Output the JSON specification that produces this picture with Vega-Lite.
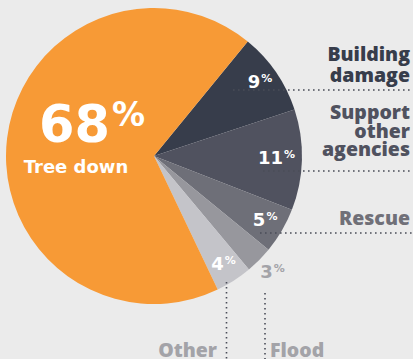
{
  "$schema": "https://vega.github.io/schema/vega-lite/v6.json",
  "width": 308,
  "height": 312,
  "autosize": "none",
  "padding": {"left": 0, "top": 0, "right": 105, "bottom": 47},
  "background": "#ebebeb",
  "config": {"view": {"stroke": null}},
  "data": {"values": [
    {"category": "Building damage", "value": 9, "ord": 1, "num": "9", "label": "Building\ndamage"},
    {"category": "Support other agencies", "value": 11, "ord": 2, "num": "11", "label": "Support\nother\nagencies"},
    {"category": "Rescue", "value": 5, "ord": 3, "num": "5", "label": "Rescue"},
    {"category": "Flood", "value": 3, "ord": 4, "num": "3", "label": "Flood"},
    {"category": "Other", "value": 4, "ord": 5, "num": "4", "label": "Other"},
    {"category": "Tree down", "value": 68, "ord": 6, "num": "68", "label": "Tree down"}
  ]},
  "layer": [
    {
      "mark": {"type": "arc", "outerRadius": 148},
      "encoding": {
        "theta": {"field": "value", "type": "quantitative", "stack": true, "scale": {"domain": [0, 100], "range": [0.686, 6.969]}},
        "order": {"field": "ord", "type": "quantitative"},
        "color": {"field": "category", "type": "nominal", "legend": null,
          "scale": {"domain": ["Building damage", "Support other agencies", "Rescue", "Flood", "Other", "Tree down"],
                    "range": ["#373d4b", "#50525f", "#6e6f78", "#97979d", "#c4c4c9", "#f79a36"]}}
      }
    },
    {
      "mark": {"type": "text", "radius": 129, "align": "right", "baseline": "middle", "font": "DejaVu Sans", "fontWeight": "bold", "fontSize": 18, "color": "#ffffff"},
      "encoding": {
        "theta": {"field": "value", "type": "quantitative", "stack": true, "scale": {"domain": [0, 100], "range": [0.686, 6.969]}},
        "order": {"field": "ord", "type": "quantitative"},
        "detail": {"field": "category", "type": "nominal"},
        "text": {"condition": {"test": "datum.category !== 'Tree down' && datum.category !== 'Flood'", "field": "num", "type": "nominal"}, "value": ""}
      }
    },
    {
      "mark": {"type": "text", "radius": 129, "align": "left", "baseline": "middle", "dx": 1, "dy": -4, "font": "DejaVu Sans", "fontWeight": "bold", "fontSize": 11, "color": "#ffffff"},
      "encoding": {
        "theta": {"field": "value", "type": "quantitative", "stack": true, "scale": {"domain": [0, 100], "range": [0.686, 6.969]}},
        "order": {"field": "ord", "type": "quantitative"},
        "detail": {"field": "category", "type": "nominal"},
        "text": {"condition": {"test": "datum.category !== 'Tree down' && datum.category !== 'Flood'", "value": "%"}, "value": ""}
      }
    },
    {
      "mark": {"type": "text", "radius": 167, "align": "right", "baseline": "middle", "font": "DejaVu Sans", "fontWeight": "bold", "fontSize": 18, "color": "#a3a3a8"},
      "encoding": {
        "theta": {"field": "value", "type": "quantitative", "stack": true, "scale": {"domain": [0, 100], "range": [0.686, 6.969]}},
        "order": {"field": "ord", "type": "quantitative"},
        "detail": {"field": "category", "type": "nominal"},
        "text": {"condition": {"test": "datum.category === 'Flood'", "field": "num", "type": "nominal"}, "value": ""}
      }
    },
    {
      "mark": {"type": "text", "radius": 167, "align": "left", "baseline": "middle", "dx": 1, "dy": -4, "font": "DejaVu Sans", "fontWeight": "bold", "fontSize": 11, "color": "#a3a3a8"},
      "encoding": {
        "theta": {"field": "value", "type": "quantitative", "stack": true, "scale": {"domain": [0, 100], "range": [0.686, 6.969]}},
        "order": {"field": "ord", "type": "quantitative"},
        "detail": {"field": "category", "type": "nominal"},
        "text": {"condition": {"test": "datum.category === 'Flood'", "value": "%"}, "value": ""}
      }
    },
    {
      "transform": [{"filter": "datum.category === 'Tree down'"}],
      "mark": {"type": "text", "align": "right", "baseline": "alphabetic", "font": "DejaVu Sans", "fontWeight": "bold", "fontSize": 51, "color": "#ffffff"},
      "encoding": {
        "x": {"datum": 110, "type": "quantitative", "scale": {"domain": [0, 308], "nice": false, "zero": false}, "axis": null},
        "y": {"datum": 142, "type": "quantitative", "scale": {"domain": [0, 312], "nice": false, "zero": false, "reverse": true}, "axis": null},
        "text": {"field": "num", "type": "nominal"}
      }
    },
    {
      "transform": [{"filter": "datum.category === 'Tree down'"}],
      "mark": {"type": "text", "align": "left", "baseline": "alphabetic", "font": "DejaVu Sans", "fontWeight": "bold", "fontSize": 33, "color": "#ffffff", "text": "%"},
      "encoding": {
        "x": {"datum": 112, "type": "quantitative", "scale": {"domain": [0, 308], "nice": false, "zero": false}, "axis": null},
        "y": {"datum": 126, "type": "quantitative", "scale": {"domain": [0, 312], "nice": false, "zero": false, "reverse": true}, "axis": null}
      }
    },
    {
      "transform": [{"filter": "datum.category === 'Tree down'"}],
      "mark": {"type": "text", "align": "center", "baseline": "alphabetic", "font": "DejaVu Sans", "fontWeight": "bold", "fontSize": 18, "color": "#ffffff"},
      "encoding": {
        "x": {"datum": 76, "type": "quantitative", "scale": {"domain": [0, 308], "nice": false, "zero": false}, "axis": null},
        "y": {"datum": 173, "type": "quantitative", "scale": {"domain": [0, 312], "nice": false, "zero": false, "reverse": true}, "axis": null},
        "text": {"field": "label", "type": "nominal"}
      }
    },
    {
      "transform": [{"filter": "datum.category === 'Building damage'"}],
      "mark": {"type": "text", "align": "right", "baseline": "alphabetic", "font": "Open Sans", "fontWeight": 800, "fontSize": 19.5, "lineHeight": 21, "lineBreak": "\n", "color": "#373d4b"},
      "encoding": {
        "x": {"datum": 410, "type": "quantitative", "scale": {"domain": [0, 308], "nice": false, "zero": false}, "axis": null},
        "y": {"datum": 61, "type": "quantitative", "scale": {"domain": [0, 312], "nice": false, "zero": false, "reverse": true}, "axis": null},
        "text": {"field": "label", "type": "nominal"}
      }
    },
    {
      "transform": [{"filter": "datum.category === 'Support other agencies'"}],
      "mark": {"type": "text", "align": "right", "baseline": "alphabetic", "font": "Open Sans", "fontWeight": 800, "fontSize": 19.5, "lineHeight": 18.5, "lineBreak": "\n", "color": "#50525f"},
      "encoding": {
        "x": {"datum": 410, "type": "quantitative", "scale": {"domain": [0, 308], "nice": false, "zero": false}, "axis": null},
        "y": {"datum": 119, "type": "quantitative", "scale": {"domain": [0, 312], "nice": false, "zero": false, "reverse": true}, "axis": null},
        "text": {"field": "label", "type": "nominal"}
      }
    },
    {
      "transform": [{"filter": "datum.category === 'Rescue'"}],
      "mark": {"type": "text", "align": "right", "baseline": "alphabetic", "font": "Open Sans", "fontWeight": 800, "fontSize": 19.5, "color": "#707078"},
      "encoding": {
        "x": {"datum": 410, "type": "quantitative", "scale": {"domain": [0, 308], "nice": false, "zero": false}, "axis": null},
        "y": {"datum": 225, "type": "quantitative", "scale": {"domain": [0, 312], "nice": false, "zero": false, "reverse": true}, "axis": null},
        "text": {"field": "label", "type": "nominal"}
      }
    },
    {
      "transform": [{"filter": "datum.category === 'Other'"}],
      "mark": {"type": "text", "align": "right", "baseline": "alphabetic", "font": "Open Sans", "fontWeight": 800, "fontSize": 19.5, "color": "#a3a3a8"},
      "encoding": {
        "x": {"datum": 217, "type": "quantitative", "scale": {"domain": [0, 308], "nice": false, "zero": false}, "axis": null},
        "y": {"datum": 356.5, "type": "quantitative", "scale": {"domain": [0, 312], "nice": false, "zero": false, "reverse": true}, "axis": null},
        "text": {"field": "label", "type": "nominal"}
      }
    },
    {
      "transform": [{"filter": "datum.category === 'Flood'"}],
      "mark": {"type": "text", "align": "left", "baseline": "alphabetic", "font": "Open Sans", "fontWeight": 800, "fontSize": 19.5, "color": "#a3a3a8"},
      "encoding": {
        "x": {"datum": 270, "type": "quantitative", "scale": {"domain": [0, 308], "nice": false, "zero": false}, "axis": null},
        "y": {"datum": 356.5, "type": "quantitative", "scale": {"domain": [0, 312], "nice": false, "zero": false, "reverse": true}, "axis": null},
        "text": {"field": "label", "type": "nominal"}
      }
    },
    {
      "transform": [{"filter": "datum.category === 'Building damage'"}],
      "mark": {"type": "rule", "color": "#4a4d58", "strokeWidth": 1.6, "strokeDash": [1.6, 3.4]},
      "encoding": {
        "x": {"datum": 233, "type": "quantitative", "scale": {"domain": [0, 308], "nice": false, "zero": false}, "axis": null},
        "x2": {"datum": 413},
        "y": {"datum": 90, "type": "quantitative", "scale": {"domain": [0, 312], "nice": false, "zero": false, "reverse": true}, "axis": null}
      }
    },
    {
      "transform": [{"filter": "datum.category === 'Support other agencies'"}],
      "mark": {"type": "rule", "color": "#4a4d58", "strokeWidth": 1.6, "strokeDash": [1.6, 3.4]},
      "encoding": {
        "x": {"datum": 263, "type": "quantitative", "scale": {"domain": [0, 308], "nice": false, "zero": false}, "axis": null},
        "x2": {"datum": 413},
        "y": {"datum": 171, "type": "quantitative", "scale": {"domain": [0, 312], "nice": false, "zero": false, "reverse": true}, "axis": null}
      }
    },
    {
      "transform": [{"filter": "datum.category === 'Rescue'"}],
      "mark": {"type": "rule", "color": "#4a4d58", "strokeWidth": 1.6, "strokeDash": [1.6, 3.4]},
      "encoding": {
        "x": {"datum": 260, "type": "quantitative", "scale": {"domain": [0, 308], "nice": false, "zero": false}, "axis": null},
        "x2": {"datum": 413},
        "y": {"datum": 233, "type": "quantitative", "scale": {"domain": [0, 312], "nice": false, "zero": false, "reverse": true}, "axis": null}
      }
    },
    {
      "transform": [{"filter": "datum.category === 'Other'"}],
      "mark": {"type": "rule", "color": "#4a4d58", "strokeWidth": 1.6, "strokeDash": [1.6, 3.4]},
      "encoding": {
        "x": {"datum": 226.5, "type": "quantitative", "scale": {"domain": [0, 308], "nice": false, "zero": false}, "axis": null},
        "y": {"datum": 282, "type": "quantitative", "scale": {"domain": [0, 312], "nice": false, "zero": false, "reverse": true}, "axis": null},
        "y2": {"datum": 359}
      }
    },
    {
      "transform": [{"filter": "datum.category === 'Flood'"}],
      "mark": {"type": "rule", "color": "#4a4d58", "strokeWidth": 1.6, "strokeDash": [1.6, 3.4]},
      "encoding": {
        "x": {"datum": 265, "type": "quantitative", "scale": {"domain": [0, 308], "nice": false, "zero": false}, "axis": null},
        "y": {"datum": 293, "type": "quantitative", "scale": {"domain": [0, 312], "nice": false, "zero": false, "reverse": true}, "axis": null},
        "y2": {"datum": 359}
      }
    }
  ]
}
